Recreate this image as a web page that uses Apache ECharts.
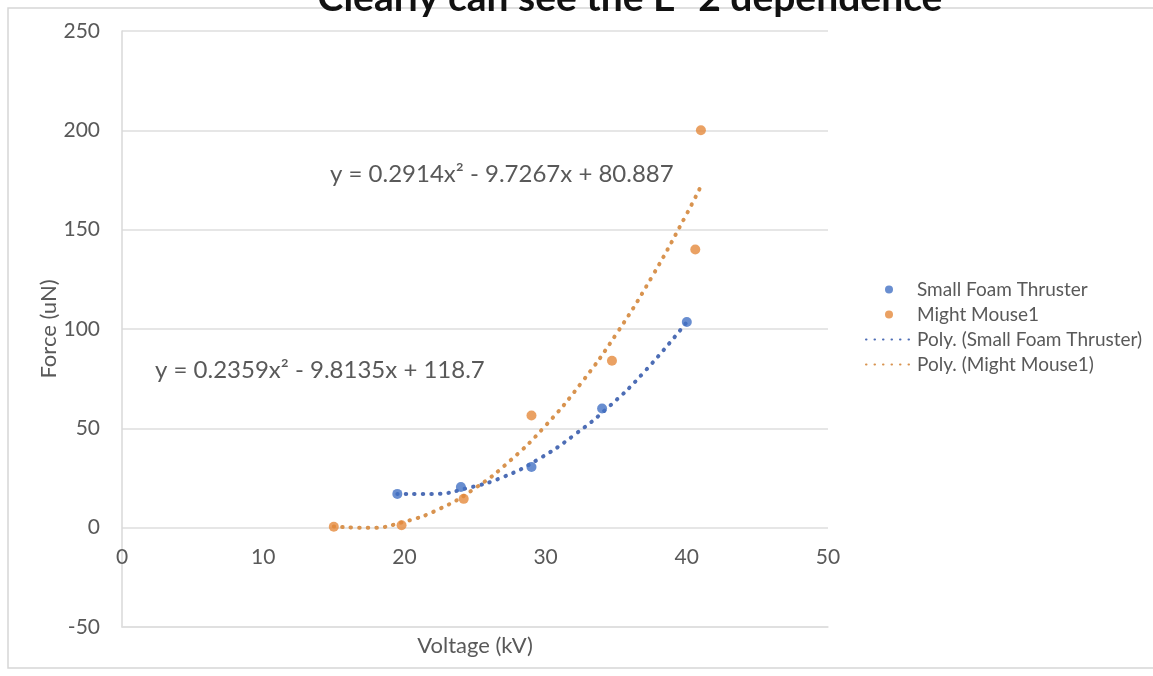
<!DOCTYPE html>
<html>
<head>
<meta charset="utf-8">
<script src="https://cdn.jsdelivr.net/npm/echarts@6/dist/echarts.min.js"></script>
<style>
  html, body { margin: 0; padding: 0; background: #fff; }
  #chart { width: 1153px; height: 676px; }
</style>
</head>
<body>
<div id="chart"></div>
<script>
// measured points, [voltage kV, force uN]
const foamThruster = [[19.5, 17], [24, 20.5], [29, 30.5], [34, 60], [40, 103.5]]
const mightMouse = [[15, 0.5], [19.8, 1.2], [24.2, 14.5], [29, 56.5], [34.7, 84], [40.6, 140], [41, 200]]

// trendline points
const foamTrend = [[19.5, 17], [22, 17], [24.5, 20], [27, 25.5], [29.5, 34.5], [32, 46.5], [34.5, 61], [37, 78.5], [40, 103.5]]
const mouseTrend = [[15, 0.6], [17.5, -0.1], [20, 3], [22.5, 9.5], [25, 19.8], [27.5, 33.8], [30, 51.4], [32.5, 72.6], [35, 97.4], [37.5, 125.9], [40, 158], [41, 171.9]]

const seriesNames = ['Small Foam Thruster', 'Might Mouse1', 'Poly. (Small Foam Thruster)', 'Poly. (Might Mouse1)']
const equations = ['y = 0.2914x\u00b2 - 9.7267x + 80.887', 'y = 0.2359x\u00b2 - 9.8135x + 118.7']

const FONT = 'Lato'
const GREY = '#595959'
const BLUE = '#4472C4'
const ORANGE = '#E58A3C'
const BLUE_DOT = '#4d6db5'
const ORANGE_DOT = '#d8934f'

const chart = echarts.init(document.getElementById('chart'))

const option = {
  backgroundColor: '#ffffff',
  animation: false,
  title: {
    text: 'Clearly can see the E^2 dependence',
    left: 630,
    textAlign: 'center',
    top: -21,
    padding: 0,
    textStyle: { fontFamily: FONT, fontSize: 39, fontWeight: 'bold', color: '#111' }
  },
  grid: { left: 122, right: 325, top: 31, bottom: 49, outerBoundsMode: 'none', containLabel: false },
  legend: {
    orient: 'vertical',
    left: 865,
    top: 277,
    padding: 0,
    itemWidth: 46,
    itemHeight: 8,
    itemGap: 0,
    data: [
      { name: seriesNames[0] },
      { name: seriesNames[1] },
      { name: seriesNames[2], itemStyle: { opacity: 0 } },
      { name: seriesNames[3], itemStyle: { opacity: 0 } }
    ],
    textStyle: { fontFamily: FONT, fontSize: 19, color: GREY, lineHeight: 25 }
  },
  xAxis: {
    type: 'value',
    min: 0,
    max: 50,
    interval: 10,
    name: 'Voltage (kV)',
    nameLocation: 'middle',
    nameGap: 8,
    nameTextStyle: { fontFamily: FONT, fontSize: 22, color: GREY },
    axisLine: { show: true, onZero: false, lineStyle: { color: '#dedede', width: 1.5 } },
    axisTick: { show: false },
    // labels sit just under the zero gridline, as in the source
    axisLabel: { margin: -80, fontFamily: FONT, fontSize: 21, color: GREY },
    splitLine: { show: false }
  },
  yAxis: {
    type: 'value',
    min: -50,
    max: 250,
    interval: 50,
    name: 'Force (uN)',
    nameLocation: 'middle',
    nameGap: 62,
    nameMoveOverlap: false,
    nameTextStyle: { fontFamily: FONT, fontSize: 22, color: GREY },
    axisLine: { show: true, onZero: false, lineStyle: { color: '#d9d9d9', width: 1.5 } },
    axisTick: { show: false },
    axisLabel: { margin: 22, fontFamily: FONT, fontSize: 21, color: GREY },
    splitLine: { show: true, lineStyle: { color: '#dedede', width: 1.5 } }
  },
  graphic: [
    {
      type: 'rect',
      shape: { x: 8, y: 8, width: 1300, height: 660 },
      style: { fill: 'none', stroke: '#d6d6d6', lineWidth: 1.5 },
      silent: true,
      z: -1
    },
    {
      type: 'text',
      left: 330,
      top: 162,
      style: { text: equations[0], font: '24px ' + FONT, fill: GREY }
    },
    {
      type: 'text',
      left: 155,
      top: 358,
      style: { text: equations[1], font: '24px ' + FONT, fill: GREY }
    }
  ],
  series: [
    {
      name: seriesNames[0],
      type: 'scatter',
      data: foamThruster,
      symbolSize: 10,
      itemStyle: { color: BLUE },
      z: 5
    },
    {
      name: seriesNames[1],
      type: 'scatter',
      data: mightMouse,
      symbolSize: 10,
      itemStyle: { color: ORANGE },
      z: 5
    },
    {
      name: seriesNames[2],
      type: 'line',
      data: foamTrend,
      smooth: true,
      symbol: 'none',
      itemStyle: { color: BLUE_DOT },
      lineStyle: { color: BLUE_DOT, width: 4, type: [0.5, 8], cap: 'round' }
    },
    {
      name: seriesNames[3],
      type: 'line',
      data: mouseTrend,
      smooth: true,
      symbol: 'none',
      itemStyle: { color: ORANGE_DOT },
      lineStyle: { color: ORANGE_DOT, width: 4, type: [0.5, 8], cap: 'round' }
    }
  ]
}

chart.setOption(option)
</script>
</body>
</html>
